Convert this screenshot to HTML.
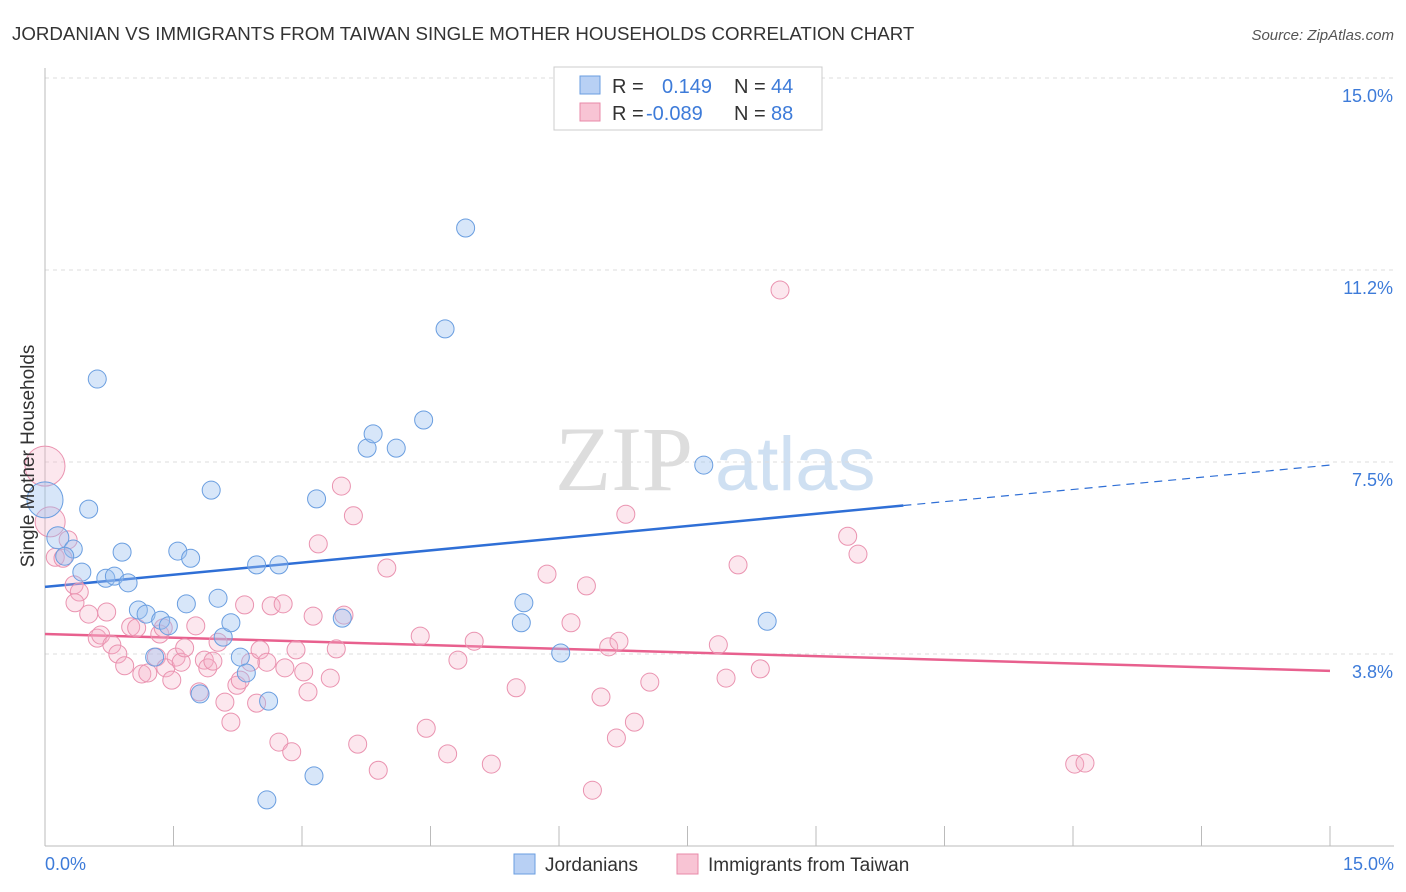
<!DOCTYPE html>
<html><head><meta charset="utf-8"><style>
body{margin:0;background:#fff;font-family:"Liberation Sans",sans-serif}
svg{display:block}
</style></head><body>
<svg id="chart" width="1406" height="892" xmlns="http://www.w3.org/2000/svg">
<text x="12" y="40" font-size="18.7" fill="#333">JORDANIAN VS IMMIGRANTS FROM TAIWAN SINGLE MOTHER HOUSEHOLDS CORRELATION CHART</text>
<text x="1394" y="40" font-size="15" fill="#555" font-style="italic" text-anchor="end">Source: ZipAtlas.com</text>
<g><text x="555" y="490" font-size="92" fill="#ddd" font-family="Liberation Serif,serif">ZIP</text><text x="715" y="490" font-size="76" fill="#cfe0f2">atlas</text></g>
<g id="grid"></g><g id="axes"></g><g id="trend"></g><g id="pts"></g>
<text transform="translate(34,456) rotate(-90)" font-size="19" fill="#333" text-anchor="middle">Single Mother Households</text>
<g>
<rect x="554" y="67" width="268" height="63" fill="#fff" stroke="#ccc"/>
<rect x="580" y="76" width="20" height="18" fill="#b8d0f4" stroke="#6a9ee0"/>
<rect x="580" y="103" width="20" height="18" fill="#f8c4d4" stroke="#e88aa8"/>
<text x="612" y="93" font-size="20" fill="#333">R =</text><text x="662" y="93" font-size="20" fill="#3d7bd9">0.149</text>
<text x="734" y="93" font-size="20" fill="#333">N =</text><text x="771" y="93" font-size="20" fill="#3d7bd9">44</text>
<text x="612" y="120" font-size="20" fill="#333">R =</text><text x="646" y="120" font-size="20" fill="#3d7bd9">-0.089</text>
<text x="734" y="120" font-size="20" fill="#333">N =</text><text x="771" y="120" font-size="20" fill="#3d7bd9">88</text>
</g>
<g>
<rect x="514" y="854" width="21" height="20" fill="#b8d0f4" stroke="#6a9ee0"/>
<text x="545" y="871" font-size="19" fill="#333">Jordanians</text>
<rect x="677" y="854" width="21" height="20" fill="#f8c4d4" stroke="#e88aa8"/>
<text x="708" y="871" font-size="19" fill="#333">Immigrants from Taiwan</text>
</g>
</svg>
<script>
const yTicks=[15.0,11.25,7.5,3.75];
const yTickLabels=["15.0%","11.2%","7.5%","3.8%"];
const xTickLabels=["0.0%","15.0%"];
const blueX=[0,0.15,0.33,0.51,0.61,0.23,0.43,0.71,0.81,0.90,0.97,1.09,1.18,1.28,1.35,1.44,1.55,1.65,1.70,1.81,1.94,2.02,2.08,2.17,2.28,2.35,2.47,2.59,2.61,2.73,3.14,3.17,3.47,3.76,3.83,4.10,4.42,4.67,4.91,5.56,5.59,6.02,7.69,8.43];
const blueY=[6.76,6.02,5.80,6.58,9.12,5.66,5.35,5.23,5.27,5.74,5.14,4.61,4.53,3.69,4.41,4.30,5.76,4.73,5.62,2.97,6.95,4.84,4.08,4.36,3.69,3.38,5.49,0.90,2.83,5.49,1.37,6.78,4.45,7.77,8.05,7.77,8.32,10.10,12.07,4.36,4.75,3.77,7.44,4.39];
const pinkX=[0,0.06,0.12,0.21,0.27,0.34,0.40,0.35,0.51,0.61,0.65,0.72,0.78,0.85,0.93,1.00,1.07,1.13,1.20,1.30,1.34,1.38,1.41,1.48,1.53,1.59,1.63,1.76,1.80,1.86,1.90,1.96,2.02,2.10,2.17,2.24,2.28,2.33,2.40,2.47,2.51,2.59,2.64,2.73,2.78,2.80,2.88,2.93,3.02,3.07,3.13,3.19,3.33,3.40,3.46,3.49,3.60,3.65,3.89,3.99,4.38,4.45,4.70,4.82,5.01,5.21,5.50,5.86,6.14,6.32,6.39,6.49,6.58,6.67,6.70,6.78,6.88,7.06,7.86,7.95,8.09,8.35,8.58,9.37,9.49,12.02,12.14];
const pinkY=[7.42,6.33,5.64,5.62,5.98,5.10,4.96,4.75,4.53,4.06,4.12,4.57,3.93,3.75,3.52,4.28,4.26,3.36,3.38,3.69,4.14,4.26,3.48,3.24,3.69,3.59,3.87,4.30,3.01,3.63,3.48,3.61,3.98,2.81,2.42,3.14,3.24,4.71,3.59,2.79,3.83,3.59,4.69,2.03,4.73,3.48,1.84,3.83,3.40,3.01,4.49,5.90,3.28,3.85,7.03,4.51,6.45,1.99,1.48,5.43,4.10,2.30,1.80,3.63,4.00,1.60,3.09,5.31,4.36,5.08,1.09,2.91,3.89,2.11,4.00,6.48,2.42,3.20,3.93,3.28,5.49,3.46,10.86,6.05,5.70,1.60,1.62];
const blueSize=[18,11];
const pinkSize=[20,15];
const blueTrend=[5.06,7.44], blueSolidEnd=10.02;
const pinkTrend=[4.14,3.42];
const NS="http://www.w3.org/2000/svg";
const sx=v=>45+v/15*1285, sy=v=>846-v/3.75*192;
function mk(tag,attrs,parent){const e=document.createElementNS(NS,tag);for(const k in attrs)e.setAttribute(k,attrs[k]);parent.appendChild(e);return e;}
const grid=document.getElementById('grid'),axes=document.getElementById('axes'),trend=document.getElementById('trend'),pts=document.getElementById('pts');
yTicks.forEach((t,i)=>{
 const l=mk('line',{x1:45,x2:1394,y1:sy(t),y2:sy(t),stroke:'#ddd','stroke-dasharray':'4,4'},grid);
 
 
 const tx=mk('text',{x:1393,y:sy(t)+24,'font-size':18,fill:'#3d7bd9','text-anchor':'end'},grid);
 tx.textContent=yTickLabels[i];
 
 
});
const ya=mk('line',{x1:45,x2:45,y1:68,y2:846,stroke:'#bbb'},axes);


const xa=mk('line',{x1:45,x2:1394,y1:846,y2:846,stroke:'#bbb'},axes);


for(let i=0;i<=10;i++){
 const x=sx(i*1.5);
 const tk=mk('line',{x1:x,x2:x,y1:826,y2:846,stroke:'#bbb'},axes);
 
 
}
[[0,'start',45],[15,'end',1394]].forEach((d,i)=>{
 const tx=mk('text',{x:d[2],y:870,'font-size':18,fill:'#3d7bd9','text-anchor':d[1]},axes);
 tx.textContent=xTickLabels[i];
 
 
});
const bAt=x=>blueTrend[0]+(blueTrend[1]-blueTrend[0])*x/15;
const b1=mk('line',{x1:sx(0),y1:sy(bAt(0)),x2:sx(blueSolidEnd),y2:sy(bAt(blueSolidEnd)),stroke:'#2f6fd6','stroke-width':2.5},trend);


const b2=mk('line',{x1:sx(blueSolidEnd),y1:sy(bAt(blueSolidEnd)),x2:sx(15),y2:sy(bAt(15)),stroke:'#2f6fd6','stroke-width':1.2,'stroke-dasharray':'8,6'},trend);


const p1=mk('line',{x1:sx(0),y1:sy(pinkTrend[0]),x2:sx(15),y2:sy(pinkTrend[1]),stroke:'#e8608e','stroke-width':2.5},trend);


function drawPts(X,Y,size,fill,stroke,name){
 X.forEach((x,i)=>{
  const c=mk('circle',{cx:sx(x),cy:sy(Y[i]),r:(i<size.length?size[i]:9),fill:fill,stroke:stroke,'stroke-width':1},pts);
  
  
 });
}
drawPts(pinkX,pinkY,pinkSize,'rgba(246,175,198,0.3)','#ea93b0','taiwan-point');
drawPts(blueX,blueY,blueSize,'rgba(155,192,240,0.4)','#6a9ee0','jordanian-point');
</script>
</body></html>
